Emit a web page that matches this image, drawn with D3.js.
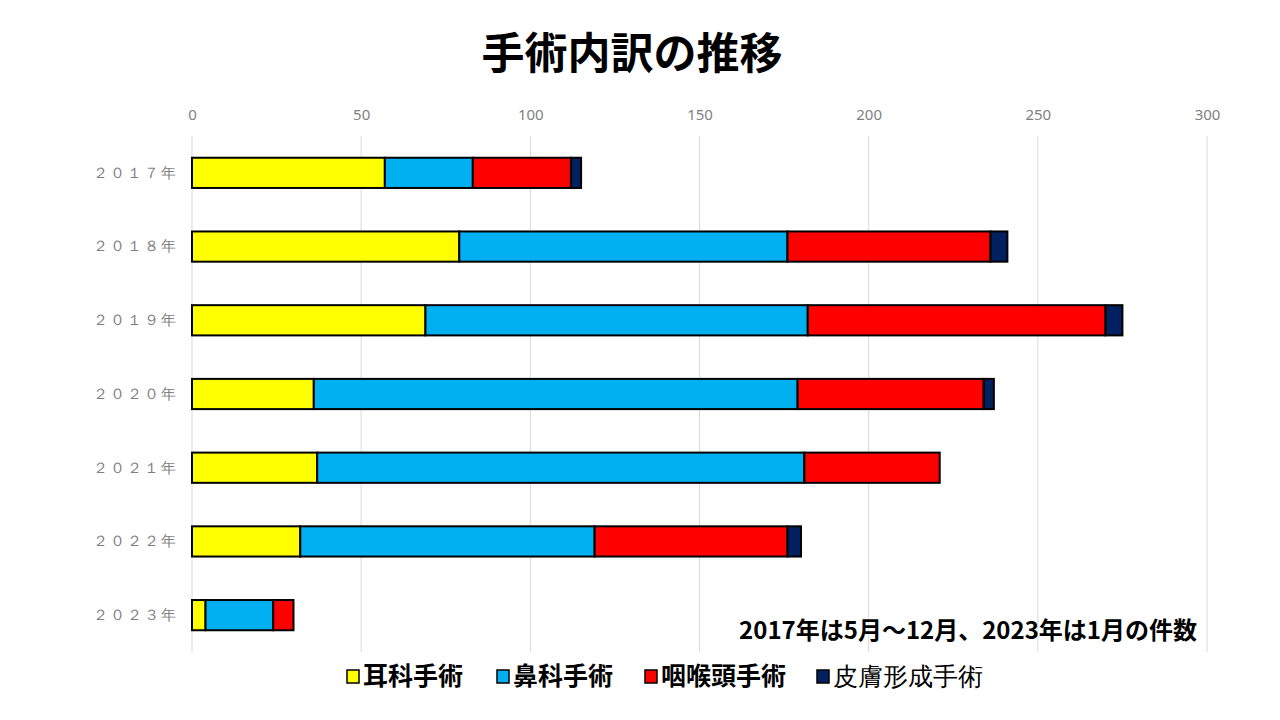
<!DOCTYPE html>
<html>
<head>
<meta charset="utf-8">
<script src="https://cdn.jsdelivr.net/npm/d3@7"></script>
<style>
  body { margin: 0; background: #fff; }
  svg { font-family: "Noto Sans CJK JP", "Noto Sans", sans-serif; }
</style>
</head>
<body>
<div class="chart"></div>
<script>
// data
var years = ["２０１７年", "２０１８年", "２０１９年", "２０２０年", "２０２１年", "２０２２年", "２０２３年"];
var seriesNames = ["耳科手術", "鼻科手術", "咽喉頭手術", "皮膚形成手術"];
var seriesColors = ["#ffff00", "#00b0f0", "#ff0000", "#002060"];
var ear   = [57, 79, 69, 36, 37, 32, 4];
var nose  = [26, 97, 113, 143, 144, 87, 20];
var throat = [29, 60, 88, 55, 40, 57, 6];
var skin  = [3, 5, 5, 3, 0, 4, 0];
var xTicks = [0, 50, 100, 150, 200, 250, 300];

var width = 1280, height = 720;
var margin = {left: 192, right: 73, top: 136, bottom: 68};

var svg = d3.select(".chart").append("svg")
    .attr("width", width)
    .attr("height", height);

// build rows for the stack
var rows = years.map(function(y, i) {
    return {year: y, "耳科手術": ear[i], "鼻科手術": nose[i], "咽喉頭手術": throat[i], "皮膚形成手術": skin[i]};
});
var stacked = d3.stack().keys(seriesNames)(rows);

var x = d3.scaleLinear().domain([0, 300]).range([margin.left, width - margin.right]);
var y = d3.scaleBand().domain(years).range([margin.top, height - margin.bottom]).paddingInner(0.59).paddingOuter(0.295);

// title
svg.append("text")
    .attr("x", 632).attr("y", 69)
    .attr("text-anchor", "middle")
    .style("font-size", "43px").style("font-weight", "bold")
    .text("手術内訳の推移");

// gridlines
svg.append("g").selectAll("line")
    .data(xTicks).enter().append("line")
    .attr("x1", function(d) { return x(d); })
    .attr("x2", function(d) { return x(d); })
    .attr("y1", margin.top)
    .attr("y2", height - margin.bottom)
    .attr("stroke", "#d9d9d9").attr("stroke-width", 1);

// top axis labels
var xAxis = svg.append("g")
    .attr("transform", "translate(0," + 120 + ")")
    .call(d3.axisTop(x).tickValues(xTicks).tickSize(0).tickPadding(0));
xAxis.select(".domain").remove();
xAxis.selectAll("text").style("font-size", "15px").style("fill", "#7f7f7f")
    .style("font-family", "Noto Sans, sans-serif");

// year labels
var yAxis = svg.append("g")
    .attr("transform", "translate(" + 178 + ",0)")
    .call(d3.axisLeft(y).tickSize(0).tickPadding(0));
yAxis.select(".domain").remove();
yAxis.selectAll("text").style("font-size", "15px").style("fill", "#7f7f7f")
    .style("letter-spacing", "2px");

// bars
svg.append("g").selectAll("g")
    .data(stacked).enter().append("g")
    .attr("fill", function(d, i) { return seriesColors[i]; })
    .selectAll("rect")
    .data(function(d) { return d.filter(function(p) { return p[1] - p[0] > 0; }); })
    .enter().append("rect")
    .attr("x", function(d) { return x(d[0]); })
    .attr("y", function(d) { return y(d.data.year); })
    .attr("width", function(d) { return x(d[1]) - x(d[0]); })
    .attr("height", y.bandwidth())
    .attr("stroke", "#000").attr("stroke-width", 2);

// note
svg.append("text")
    .attr("x", 1197).attr("y", 639)
    .attr("text-anchor", "end")
    .style("font-size", "24px").style("font-weight", "bold")
    .text("2017年は5月～12月、2023年は1月の件数");

// legend
var legendX = [347, 497, 645, 817];
var legend = svg.append("g").selectAll("g")
    .data(seriesNames).enter().append("g")
    .attr("transform", function(d, i) { return "translate(" + legendX[i] + ",676)"; });
legend.append("rect")
    .attr("x", 0).attr("y", -6).attr("width", 12).attr("height", 13)
    .attr("fill", function(d, i) { return seriesColors[i]; })
    .attr("stroke", "#000").attr("stroke-width", 1.5);
legend.append("text")
    .attr("x", 16).attr("y", 9)
    .style("font-size", "25px")
    .style("font-weight", function(d, i) { return i < 3 ? "bold" : "normal"; })
    .style("font-family", function(d, i) { return i < 3 ? null : "serif"; })
    .text(function(d) { return d; });
</script>
</body>
</html>
